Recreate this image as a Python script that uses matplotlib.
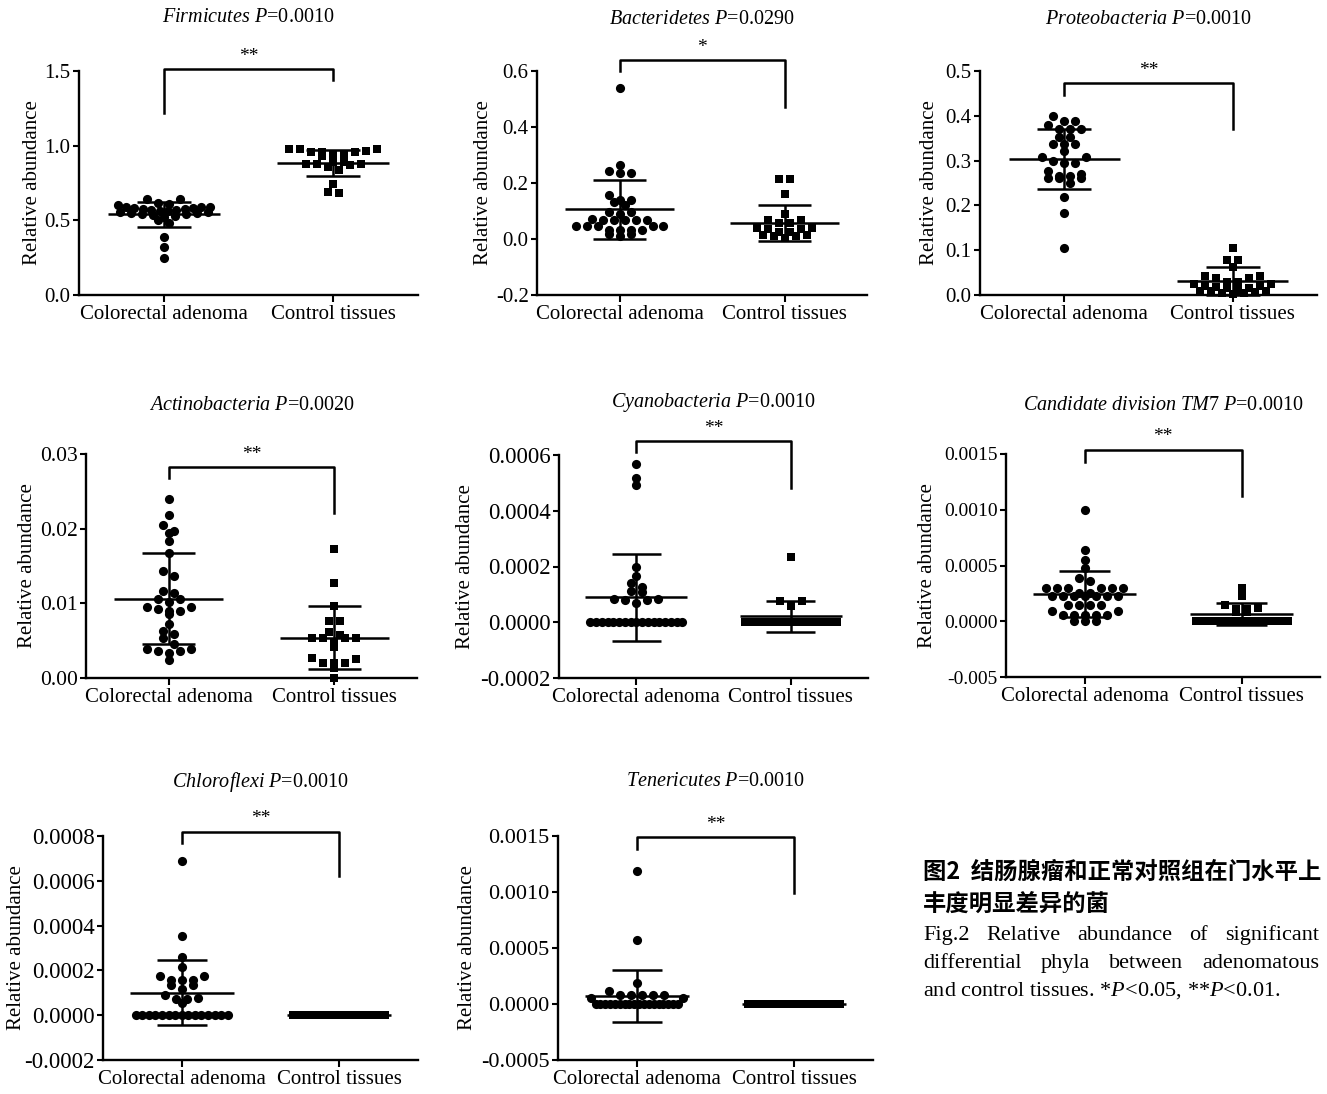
import numpy as np
import matplotlib
matplotlib.use('Agg')
import matplotlib.pyplot as plt

plt.rcParams['font.family'] = ['Liberation Serif', 'DejaVu Serif']
plt.rcParams['mathtext.fontset'] = 'custom'
plt.rcParams['mathtext.rm'] = 'Liberation Serif'
plt.rcParams['mathtext.it'] = 'Liberation Serif:italic'

# ---------------- data ----------------
groups = ['Colorectal adenoma', 'Control tissues']
phyla = ['Firmicutes', 'Bacteridetes', 'Proteobacteria', 'Actinobacteria',
         'Cyanobacteria', 'Candidate division TM7', 'Chloroflexi', 'Tenericutes']
p_values = ['0.0010', '0.0290', '0.0010', '0.0020', '0.0010', '0.0010', '0.0010', '0.0010']
stars = ['**', '*', '**', '**', '**', '**', '**', '**']

firm_ad = [0.645, 0.645, 0.615, 0.61, 0.60, 0.59, 0.59, 0.588, 0.585, 0.58, 0.578,
           0.575, 0.57, 0.568, 0.565, 0.56, 0.558, 0.555, 0.55, 0.548, 0.545, 0.54,
           0.535, 0.53, 0.52, 0.50, 0.48, 0.39, 0.32, 0.25]
firm_ct = [0.98, 0.975, 0.98, 0.965, 0.96, 0.96, 0.96, 0.94, 0.94, 0.93, 0.89, 0.89,
           0.88, 0.88, 0.88, 0.87, 0.86, 0.84, 0.745, 0.69, 0.685]
bact_ad = [0.541, 0.265, 0.243, 0.236, 0.236, 0.156, 0.141, 0.141, 0.131, 0.122, 0.095,
           0.095, 0.088, 0.073, 0.067, 0.067, 0.067, 0.067, 0.067, 0.048, 0.048, 0.048,
           0.048, 0.048, 0.031, 0.031, 0.031, 0.031, 0.019, 0.019, 0.01]
bact_ct = [0.216, 0.216, 0.162, 0.09, 0.067, 0.067, 0.057, 0.057, 0.038, 0.038, 0.035,
           0.035, 0.025, 0.025, 0.015, 0.015, 0.01, 0.01, 0.005]
prot_ad = [0.399, 0.389, 0.389, 0.38, 0.37, 0.37, 0.37, 0.352, 0.352, 0.337, 0.337,
           0.337, 0.322, 0.308, 0.308, 0.295, 0.295, 0.30, 0.277, 0.265, 0.265, 0.262,
           0.262, 0.262, 0.271, 0.25, 0.218, 0.183, 0.106]
prot_ct = [0.106, 0.078, 0.078, 0.062, 0.043, 0.043, 0.037, 0.037, 0.03, 0.03, 0.025,
           0.025, 0.02, 0.02, 0.018, 0.015, 0.015, 0.012, 0.01, 0.01, 0.008, 0.006,
           0.005, 0.004, 0.003]
acti_ad = [0.024, 0.0218, 0.0205, 0.0197, 0.0194, 0.0183, 0.0167, 0.0143, 0.0136,
           0.0116, 0.0114, 0.0106, 0.0106, 0.0102, 0.0095, 0.0095, 0.0092, 0.009, 0.009,
           0.0086, 0.0072, 0.0063, 0.0059, 0.0054, 0.0046, 0.0039, 0.0039, 0.0036,
           0.0036, 0.0034, 0.0024]
acti_ct = [0.0173, 0.0127, 0.0097, 0.0077, 0.0077, 0.0062, 0.0057, 0.0053, 0.0053,
           0.0053, 0.0053, 0.0048, 0.0042, 0.0027, 0.0025, 0.002, 0.002, 0.002, 0.0013, 0.0]
cyan_ad = [0.000569, 0.000519, 0.000492, 0.000199, 0.000166, 0.000142, 0.000127,
           0.000113, 0.000108, 0.000082, 0.000082, 0.00008, 0.00008, 0.00007,
           0, 0, 0, 0, 0, 0, 0, 0, 0, 0, 0, 0, 0, 0, 0, 0, 0]
cyan_ct = [0.000233, 0.000077, 0.000077, 0.00006,
           0, 0, 0, 0, 0, 0, 0, 0, 0, 0, 0, 0, 0, 0, 0, 0]
tm7_ad = [0.001, 0.00064, 0.00055, 0.00048, 0.00039, 0.00036, 0.0003, 0.0003, 0.0003,
          0.0003, 0.0003, 0.0003, 0.00025, 0.00025, 0.00023, 0.00023, 0.00023, 0.00023,
          0.00023, 0.00023, 0.00023, 0.00015, 0.00015, 0.00015, 0.00015, 0.00009,
          0.00009, 0.00006, 0.00006, 0.00006, 0.00006, 0.00006, 0, 0, 0]
tm7_ct = [0.0003, 0.000225, 0.000142, 0.00012, 0.00011, 0.00011, 0.00008, 0.00008,
          0, 0, 0, 0, 0, 0, 0, 0, 0, 0, 0, 0, 0, 0, 0, 0]
chlo_ad = [0.00069, 0.000354, 0.000259, 0.000213, 0.000176, 0.000176, 0.000155,
           0.000155, 0.000155, 0.000134, 0.000134, 0.000119, 0.000091, 0.000077,
           0.000071, 0.000071, 0.000054,
           0, 0, 0, 0, 0, 0, 0, 0, 0, 0, 0, 0, 0, 0, 0]
chlo_ct = [0, 0, 0, 0, 0, 0, 0, 0, 0, 0, 0, 0, 0, 0, 0, 0, 0, 0]
tene_ad = [0.001188, 0.000571, 0.00019, 0.000119, 0.00008, 0.00008, 0.00008, 0.00008,
           0.00008, 0.00005, 0.00005,
           0, 0, 0, 0, 0, 0, 0, 0, 0, 0, 0, 0, 0, 0, 0, 0, 0, 0]
tene_ct = [0, 0, 0, 0, 0, 0, 0, 0, 0, 0, 0, 0, 0, 0, 0, 0, 0, 0]

adenoma = [firm_ad, bact_ad, prot_ad, acti_ad, cyan_ad, tm7_ad, chlo_ad, tene_ad]
control = [firm_ct, bact_ct, prot_ct, acti_ct, cyan_ct, tm7_ct, chlo_ct, tene_ct]
# mean and SD as drawn in the figure
means = [(0.54, 0.886), (0.106, 0.057), (0.304, 0.0305), (0.0106, 0.0054),
         (0.0000888, 0.0000216), (0.000246, 0.000068), (0.000101, 0.0), (0.0000714, 0.0)]
sds = [(0.085, 0.088), (0.106, 0.065), (0.067, 0.031), (0.0061, 0.0042),
       (0.000157, 0.000056), (0.000205, 0.0001), (0.000144, 0.0), (0.000235, 0.0)]
# significance bracket: top, left leg end, right leg end
brackets = [(1.513, 1.22, 1.44), (0.64, 0.60, 0.47), (0.473, 0.446, 0.37),
            (0.0283, 0.0268, 0.0221), (0.00065, 0.00061, 0.00048),
            (0.00154, 0.00143, 0.00112), (0.00082, 0.00077, 0.00062),
            (0.00149, 0.00138, 0.00099)]
yticks = [[0.0, 0.5, 1.0, 1.5], [-0.2, 0.0, 0.2, 0.4, 0.6], [0.0, 0.1, 0.2, 0.3, 0.4, 0.5],
          [0.0, 0.01, 0.02, 0.03], [-0.0002, 0.0, 0.0002, 0.0004, 0.0006],
          [-0.0005, 0.0, 0.0005, 0.0010, 0.0015],
          [-0.0002, 0.0, 0.0002, 0.0004, 0.0006, 0.0008],
          [-0.0005, 0.0, 0.0005, 0.0010, 0.0015]]
ytick_labels = [['0.0', '0.5', '1.0', '1.5'], ['-0.2', '0.0', '0.2', '0.4', '0.6'],
                ['0.0', '0.1', '0.2', '0.3', '0.4', '0.5'], ['0.00', '0.01', '0.02', '0.03'],
                ['-0.0002', '0.0000', '0.0002', '0.0004', '0.0006'],
                ['-0.005', '0.0000', '0.0005', '0.0010', '0.0015'],
                ['-0.0002', '0.0000', '0.0002', '0.0004', '0.0006', '0.0008'],
                ['-0.0005', '0.0000', '0.0005', '0.0010', '0.0015']]

# ---------------- layout (pixels) ----------------
W, H = 1327, 1094
ax_boxes = [(79, 71, 418, 295), (537, 71, 867, 295), (980, 71, 1317, 295),
            (86, 454, 417, 678), (559, 455, 868, 678), (1006, 454, 1320, 677),
            (103, 836, 418, 1060), (558, 836, 873, 1060)]
title_y = [18, 19, 20, 405, 403, 405, 782, 782]
ylabel_x = [33, 483, 930, 28, 465, 927, 17, 468]
tick_fs = [15, 15, 15, 15.5, 16.5, 14, 16.5, 16]

fig = plt.figure(figsize=(W / 100, H / 100), dpi=100)


def swarm(ax, xc, vals, row_h=6.0, step=11.0, max_w=92.0):
    # GraphPad-like scatter: points grouped into rows, each row centred on xc
    vals = np.asarray(vals, dtype=float)
    pts = ax.transData.transform(np.column_stack([np.full(len(vals), xc), vals]))
    x0 = pts[0, 0]
    ys = pts[:, 1]
    xs = np.zeros(len(vals))
    order = np.argsort(-ys, kind='stable')
    rows, cur = [], [order[0]]
    for i in order[1:]:
        if ys[cur[0]] - ys[i] <= row_h:
            cur.append(i)
        else:
            rows.append(cur)
            cur = [i]
    rows.append(cur)
    for row in rows:
        n = len(row)
        s = step if n < 2 else min(step, max_w / (n - 1))
        pos = (np.arange(n) - (n - 1) / 2) * s
        slots = pos[np.argsort(-np.abs(pos), kind='stable')]
        for i, p in zip(row, slots):
            xs[i] = p
    inv = ax.transData.inverted()
    return inv.transform(np.column_stack([x0 + xs, ys]))[:, 0]


for k in range(8):
    l, t, r, b = ax_boxes[k]
    ax = fig.add_axes([l / W, 1 - b / H, (r - l) / W, (b - t) / H])
    ax.set_xlim(-0.5, 1.5)
    ax.set_ylim(yticks[k][0], yticks[k][-1])
    ax.patch.set_alpha(0)
    for s in ['top', 'right']:
        ax.spines[s].set_visible(False)
    for s in ['left', 'bottom']:
        ax.spines[s].set_linewidth(1.7)
    ax.set_yticks(yticks[k])
    ax.set_yticklabels(ytick_labels[k], fontsize=tick_fs[k])
    ax.set_xticks([0, 1])
    ax.set_xticklabels(groups, fontsize=15)
    ax.tick_params(axis='x', width=1.5, length=5, pad=2)
    ax.tick_params(axis='y', width=1.5, length=4.5, pad=1.5)

    for g, (vals, mk, ms) in enumerate([(adenoma[k], 'o', 6.6), (control[k], 's', 6.0)]):
        xs = swarm(ax, g, vals)
        ax.plot(xs, vals, ls='none', marker=mk, ms=ms, color='k', mew=0, clip_on=False)
        m, sd = means[k][g], sds[k][g]
        ax.hlines(m, g - 0.33, g + 0.33, color='k', lw=1.8, clip_on=False)
        ax.vlines(g, m - sd, m + sd, color='k', lw=1.8, clip_on=False)
        ax.hlines([m - sd, m + sd], g - 0.16, g + 0.16, color='k', lw=1.8, clip_on=False)

    top, lft, rgt = brackets[k]
    ax.plot([0, 0, 1, 1], [lft, top, top, rgt], color='k', lw=1.8, clip_on=False)
    ax.annotate(stars[k], xy=(0.5, top), xytext=(0, 3), textcoords='offset points',
                ha='center', va='bottom', fontsize=14, annotation_clip=False)

    fig.text(((l + r) / 2) / W, 1 - title_y[k] / H,
             r'$\mathit{' + phyla[k].replace(' ', r'\ ') + r'}$ $\mathit{P}$=' + p_values[k],
             ha='center', va='center', fontsize=14.5)
    fig.text(ylabel_x[k] / W, 1 - ((t + b) / 2) / H, 'Relative abundance',
             rotation=90, ha='center', va='center', fontsize=15)

# ---------------- caption ----------------
cjk = ['Noto Sans CJK SC', 'DejaVu Sans']
fig.text(923 / W, 1 - 879 / H, '图2  结肠腺瘤和正常对照组在门水平上', family=cjk,
         fontsize=16.8, weight='bold', va='baseline', ha='left')
fig.text(923 / W, 1 - 911 / H, '丰度明显差异的菌', family=cjk,
         fontsize=16.8, weight='bold', va='baseline', ha='left')

renderer = fig.canvas.get_renderer()


def justify(words, base, x0, x1, fs):
    texts = [fig.text(0, 1 - base / H, w, fontsize=fs, va='baseline', ha='left')
             for w in words]
    widths = [tx.get_window_extent(renderer).width for tx in texts]
    gap = (x1 - x0 - sum(widths)) / (len(words) - 1)
    x = x0
    for tx, w in zip(texts, widths):
        tx.set_x(x / W)
        x += w + gap


justify('Fig.2  Relative abundance of significant'.split(), 940, 923, 1319, 16)
justify('differential phyla between adenomatous'.split(), 968, 923, 1319, 16)
fig.text(923 / W, 1 - 996 / H, r'and control tissues. *$P$<0.05, **$P$<0.01.',
         fontsize=16, va='baseline', ha='left')

fig.savefig('out.png', dpi=100)
